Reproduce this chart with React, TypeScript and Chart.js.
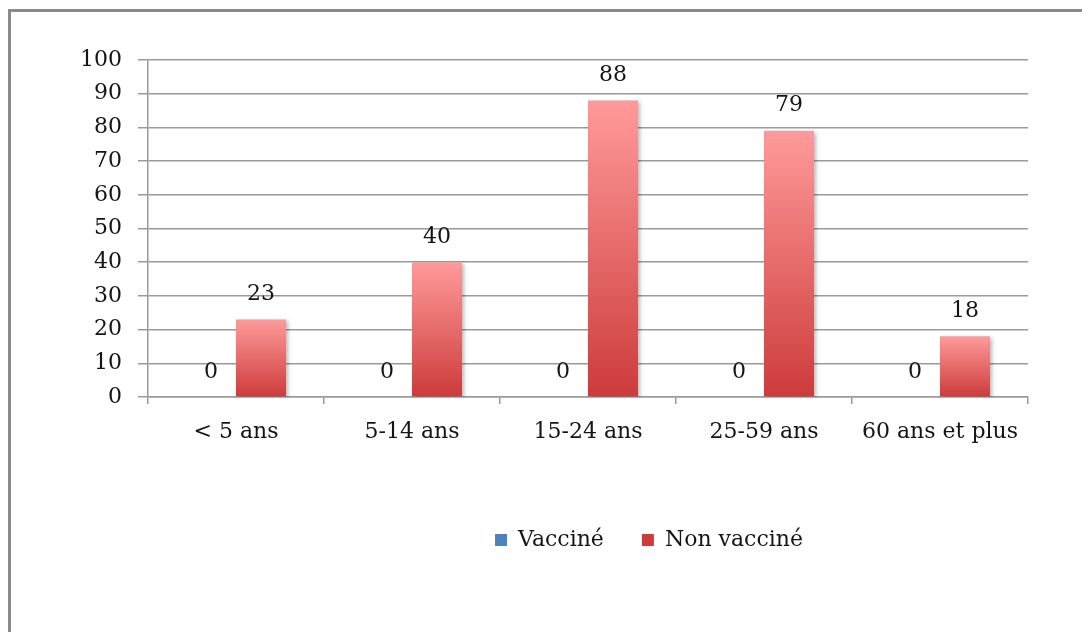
import React, { useEffect, useRef } from "react";
import { Chart, registerables } from "chart.js";

Chart.register(...registerables);

const categories = ["< 5 ans", "5-14 ans", "15-24 ans", "25-59 ans", "60 ans et plus"];
const vaccine = [0, 0, 0, 0, 0];
const nonVaccine = [23, 40, 88, 79, 18];
const seriesNames = ["Vacciné", "Non vacciné"];
const yTicks = { min: 0, max: 100, step: 10 };

const FONT = "'DejaVu Serif', 'Liberation Serif', serif";
const TEXT = "#151515";

function gradientFill(top: string, bottom: string, fallback: string) {
  return (ctx: any) => {
    const chart = ctx.chart;
    if (!chart.chartArea || ctx.type !== "data" || !ctx.parsed) return fallback;
    const y = chart.scales.y;
    const t = y.getPixelForValue(ctx.parsed.y);
    const b = y.getPixelForValue(0);
    if (b - t < 1) return fallback;
    const g = chart.ctx.createLinearGradient(0, t, 0, b);
    g.addColorStop(0, top);
    g.addColorStop(1, bottom);
    return g;
  };
}

const shadowPlugin = {
  id: "barShadow",
  beforeDatasetsDraw(chart: any) {
    const c = chart.ctx;
    c.save();
    c.shadowColor = "rgba(0,0,0,0.28)";
    c.shadowBlur = 4;
    c.shadowOffsetX = 2;
    c.shadowOffsetY = 2;
  },
  afterDatasetsDraw(chart: any) {
    chart.ctx.restore();
  },
};

const labelPlugin = {
  id: "valueLabels",
  afterDatasetsDraw(chart: any) {
    const c = chart.ctx;
    c.save();
    c.shadowColor = "transparent";
    c.font = `22px ${FONT}`;
    c.fillStyle = TEXT;
    c.textAlign = "center";
    c.textBaseline = "middle";
    chart.data.datasets.forEach((ds: any, di: number) => {
      const meta = chart.getDatasetMeta(di);
      meta.data.forEach((el: any, i: number) => {
        c.fillText(String(ds.data[i]), el.x, el.y - 25);
      });
    });
    c.restore();
  },
};

export default function App() {
  const ref = useRef<HTMLCanvasElement | null>(null);
  useEffect(() => {
    if (!ref.current) return;
    const chart = new Chart(ref.current, {
      type: "bar",
      data: {
        labels: categories,
        datasets: [
          {
            label: seriesNames[0],
            data: vaccine,
            backgroundColor: gradientFill("#8fb4e3", "#3a6fb5", "#4f81bd"),
            borderWidth: 0,
            categoryPercentage: 100 / 176,
            barPercentage: 1,
          },
          {
            label: seriesNames[1],
            data: nonVaccine,
            backgroundColor: gradientFill("#ff9a9a", "#cd3b3b", "#e25c5c"),
            borderWidth: 0,
            categoryPercentage: 100 / 176,
            barPercentage: 1,
          },
        ],
      },
      options: {
        responsive: false,
        animation: false,
        layout: { padding: { left: 0, right: 0, top: 52, bottom: 71 } },
        plugins: {
          tooltip: { enabled: false },
          legend: {
            position: "bottom",
            labels: {
              boxWidth: 12,
              boxHeight: 12,
              padding: 38,
              color: TEXT,
              font: { family: FONT, size: 22 },
            },
          },
        },
        scales: {
          x: {
            afterFit: (s: any) => {
              s.height = 94;
            },
            grid: {
              display: true,
              drawOnChartArea: false,
              drawTicks: true,
              tickLength: 7,
              color: "#9a9a9a",
              lineWidth: 1.5,
            },
            border: { display: true, color: "#9a9a9a", width: 1.5 },
            ticks: {
              color: TEXT,
              padding: 15,
              maxRotation: 0,
              font: { family: FONT, size: 22 },
            },
          },
          y: {
            min: yTicks.min,
            max: yTicks.max,
            afterFit: (s: any) => {
              s.width = 140;
            },
            grid: {
              color: "#9a9a9a",
              lineWidth: 1.5,
              tickLength: 10,
            },
            border: { display: true, color: "#9a9a9a", width: 1.5 },
            ticks: {
              stepSize: yTicks.step,
              color: TEXT,
              padding: 16,
              font: { family: FONT, size: 22 },
            },
          },
          spacer: {
            type: "linear",
            position: "right",
            display: true,
            afterFit: (s: any) => {
              s.width = 262;
            },
            grid: { display: false, drawOnChartArea: false, drawTicks: false },
            border: { display: false },
            ticks: { display: false },
          },
        },
      },
      plugins: [shadowPlugin, labelPlugin],
    });
    return () => chart.destroy();
  }, []);

  return (
    <div
      style={{
        position: "fixed",
        left: 8,
        top: 8,
        right: 0,
        bottom: 0,
        overflow: "hidden",
        background: "#fff",
      }}
    >
      <div
        style={{
          position: "absolute",
          left: 0,
          top: 1,
          width: 2000,
          height: 2000,
          border: "3px solid #8a8a8a",
          boxSizing: "border-box",
        }}
      />
      <canvas
        ref={ref}
        width={1282}
        height={624}
        style={{ position: "absolute", left: 0, top: 0, width: 1282, height: 624 }}
      />
    </div>
  );
}
